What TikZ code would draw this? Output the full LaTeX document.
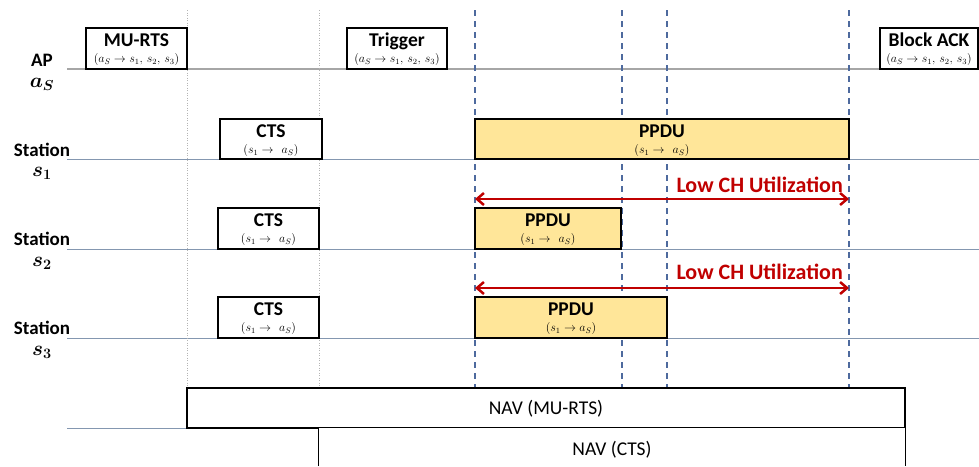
\documentclass[tikz,border=0pt]{standalone}
\usepackage{amsmath}
\usepackage{fontspec}
\setmainfont{Carlito}
\usetikzlibrary{arrows.meta}
\definecolor{apline}{HTML}{A6A6A6}
\definecolor{stline}{HTML}{8497B0}
\definecolor{dashc}{HTML}{4E6A9E}
\definecolor{dotc}{HTML}{B4B4B4}
\definecolor{ppduc}{HTML}{FFE699}
\definecolor{lowred}{HTML}{C00000}
\tikzset{
  axisap/.style={draw=apline, line width=1.5pt},
  axisst/.style={draw=stline, line width=1pt},
  dotv/.style={draw=dotc, line width=0.9pt, dash pattern=on 1pt off 1.5pt},
  dashv/.style={draw=dashc, line width=1.3pt, dash pattern=on 6pt off 5pt},
  framebox/.style={draw=black, line width=1.5pt, fill=white, inner sep=0pt},
  ppdubox/.style={draw=black, line width=1.5pt, fill=ppduc, inner sep=0pt},
  navbox/.style={draw=black, line width=1.2pt, fill=white, inner sep=0pt},
  titletxt/.style={font=\fontsize{19.5}{21}\selectfont\bfseries, inner sep=0pt, anchor=base},
  subtxt/.style={font=\fontsize{12}{13}\selectfont, inner sep=0pt, anchor=base},
  sidetxt/.style={font=\fontsize{19}{21}\selectfont\bfseries, inner sep=0pt, anchor=base},
  sidemath/.style={font=\fontsize{19.5}{21}\selectfont\boldmath, inner sep=0pt, anchor=base},
  lowtxt/.style={font=\fontsize{22}{24}\selectfont\bfseries, text=lowred, inner sep=0pt, anchor=base east},
  lowarrow/.style={draw=lowred, line width=2.5pt, {Straight Barb[length=7pt,width=12pt]}-{Straight Barb[length=7pt,width=12pt]}},
  navtxt/.style={font=\fontsize{19.5}{21}\selectfont, inner sep=0pt}
}
\newcommand{\pktbox}[8]{%
  \node[#8, minimum width={(#4-#2)*1pt}, minimum height={(#5-#3)*1pt}] (#1) at ({(#2+#4)/2},{(#3+#5)/2}) {};
  \node[titletxt] (#1-t) at ([yshift=-19.5pt]#1.north) {#6};
  \node[subtxt] (#1-s) at ([yshift=-35.5pt]#1.north) {#7};
}
\begin{document}
\begin{tikzpicture}[x=1pt,y=-1pt]
\useasboundingbox (0,0) rectangle (979,466);
% axes
\coordinate (apL) at (67,69);  \coordinate (apR) at (979,69);
\coordinate (s1L) at (67,159); \coordinate (s1R) at (979,159);
\coordinate (s2L) at (67,249); \coordinate (s2R) at (979,249);
\coordinate (s3L) at (67,338); \coordinate (s3R) at (979,338);
\coordinate (navL) at (67,428); \coordinate (navR) at (187,428);
\draw[axisap] (apL) -- (apR);
\draw[axisst] (s1L) -- (s1R);
\draw[axisst] (s2L) -- (s2R);
\draw[axisst] (s3L) -- (s3R);
\draw[axisst] (navL) -- (navR);
% vertical guides
\coordinate (d1t) at (187,10); \coordinate (d1b) at (187,388);
\coordinate (d2t) at (319,10); \coordinate (d2b) at (319,428);
\draw[dotv] (d1t) -- (d1b);
\draw[dotv] (d2t) -- (d2b);
\foreach \xx/\nm in {475/a,622/b,667/c,849/d}{
  \coordinate (v\nm t) at (\xx,10); \coordinate (v\nm b) at (\xx,388);
  \draw[dashv] (v\nm t) -- (v\nm b);
}
% AP frames
\pktbox{murts}{86}{28}{187}{69}{MU-RTS}{$(a_S\rightarrow s_1,\,s_2,\,s_3)$}{framebox}
\pktbox{trig}{347}{28}{447}{69}{Trigger}{$(a_S\rightarrow s_1,\,s_2,\,s_3)$}{framebox}
\pktbox{back}{880}{28}{978}{69}{Block ACK}{$(a_S\rightarrow s_1,\,s_2,\,s_3)$}{framebox}
% station 1
\pktbox{cts1}{220}{119}{322}{159}{CTS}{$(s_1\rightarrow\ \,a_S)$}{framebox}
\pktbox{ppdu1}{475}{119}{849}{159}{PPDU}{$(s_1\rightarrow\ \,a_S)$}{ppdubox}
% station 2
\pktbox{cts2}{218}{208}{319}{249}{CTS}{$(s_1\rightarrow\ \,a_S)$}{framebox}
\pktbox{ppdu2}{475}{208}{621}{249}{PPDU}{$(s_1\rightarrow\ \,a_S)$}{ppdubox}
% station 3
\pktbox{cts3}{218}{297}{319}{338}{CTS}{$(s_1\rightarrow\ \,a_S)$}{framebox}
\pktbox{ppdu3}{475}{297}{667}{338}{PPDU}{$(s_1\rightarrow a_S)$}{ppdubox}
% NAV
\node[navbox, minimum width=718pt, minimum height=40pt] (nav1) at (546,408) {};
\node[navtxt] (nav1-t) at (546,409) {NAV (MU-RTS)};
\node[inner sep=0pt, minimum width=586pt, minimum height=38pt, fill=white] (nav2) at (612,447) {};
\draw[black, line width=1.2pt] (nav2.south west) -- (nav2.north west) -- (nav2.north east) -- (nav2.south east);
\node[navtxt] (nav2-t) at (612,450) {NAV (CTS)};
% side labels
\node[sidetxt] (lap) at (42,66.5) {AP};
\node[sidemath] (lapm) at (42,87) {$a_S$};
\node[sidetxt] (ls1) at (42,156) {Station};
\node[sidemath] (ls1m) at (42,176) {$s_1$};
\node[sidetxt] (ls2) at (42,245.5) {Station};
\node[sidemath] (ls2m) at (42,266) {$s_2$};
\node[sidetxt] (ls3) at (42,334.5) {Station};
\node[sidemath] (ls3m) at (42,355) {$s_3$};
% low utilization arrows
\coordinate (a1L) at (475,199); \coordinate (a1R) at (849,199);
\coordinate (a2L) at (475,288); \coordinate (a2R) at (849,288);
\draw[lowarrow] (a1L) -- (a1R);
\draw[lowarrow] (a2L) -- (a2R);
\node[lowtxt] (low1) at (843,192.5) {Low CH Utilization};
\node[lowtxt] (low2) at (843,279.5) {Low CH Utilization};
\end{tikzpicture}
\end{document}
